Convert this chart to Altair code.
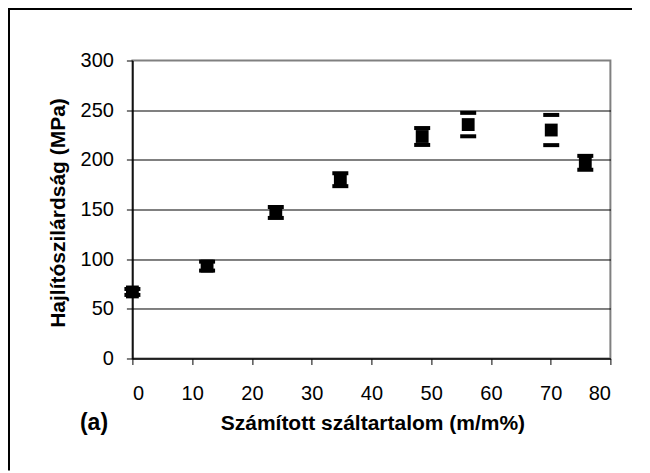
import altair as alt
import pandas as pd

# Data
fiber = [0, 12.5, 24, 34.8, 48.5, 56.2, 70.1, 75.8]
strength = [67, 93, 147, 180, 223.5, 235.5, 230, 197]
err = [3, 4.5, 5.5, 6.5, 8.5, 11.8, 15.2, 7]

x_ticks = [0, 10, 20, 30, 40, 50, 60, 70, 80]
y_ticks = [0, 50, 100, 150, 200, 250, 300]

df = pd.DataFrame({"x": fiber, "y": strength, "e": err})
df["lo"] = df["y"] - df["e"]
df["hi"] = df["y"] + df["e"]

FONT = "Liberation Sans"
W, H = 478, 298
PL, PT = 124.4, 52.5

xscale = alt.Scale(domain=[0, 80], nice=False, zero=False)
yscale = alt.Scale(domain=[0, 300], nice=False)

xaxis = alt.Axis(
    values=x_ticks, grid=False, domainColor="black", domainWidth=1.5,
    tickColor="black", tickSize=6, tickWidth=1, labelFont=FONT, labelFontSize=20,
    labelColor="black", labelPadding=19, title="Számított száltartalom (m/m%)",
    titleFont=FONT, titleFontSize=21, titleFontWeight="bold", titleColor="black",
    titleX=W / 2 + 1, titleY=65, titleBaseline="middle",
)
yaxis = alt.Axis(
    values=y_ticks, grid=True,
    gridColor="black", gridWidth=1,
    gridOpacity={"condition": {"test": "datum.value == 300 || datum.value == 0", "value": 0}, "value": 1},
    domainColor="black", domainWidth=1.5, tickColor="black", tickSize=6, tickWidth=1,
    labelFont=FONT, labelFontSize=20, labelColor="black", labelPadding=13,
    title="Hajlítószilárdság (MPa)", titleFont=FONT, titleFontSize=21,
    titleFontWeight="bold", titleColor="black", titleAngle=270,
    titleX=-74, titleY=H / 2 + 3, titleBaseline="middle", titleAlign="center",
)

base = alt.Chart(df)

points = base.mark_square(size=165, color="black", opacity=1, filled=True).encode(
    x=alt.X("x:Q", scale=xscale, axis=xaxis),
    y=alt.Y("y:Q", scale=yscale, axis=yaxis),
)
cap_lo = base.mark_tick(orient="horizontal", color="black", thickness=4, size=16, opacity=1).encode(
    x=alt.X("x:Q", scale=xscale), y=alt.Y("lo:Q", scale=yscale)
)
cap_hi = base.mark_tick(orient="horizontal", color="black", thickness=4, size=16, opacity=1).encode(
    x=alt.X("x:Q", scale=xscale), y=alt.Y("hi:Q", scale=yscale)
)

one = pd.DataFrame({"a": [0]})
frame_top = alt.Chart(one).mark_rule(color="black", strokeWidth=2).encode(
    x=alt.value(-PL), x2=alt.value(W + 22), y=alt.value(-PT + 1)
)
frame_left = alt.Chart(one).mark_rule(color="black", strokeWidth=2).encode(
    x=alt.value(-PL + 1), y=alt.value(-PT), y2=alt.value(H + 112)
)

label_a = alt.Chart(pd.DataFrame({"t": ["(a)"]})).mark_text(
    font=FONT, fontSize=23, fontWeight="bold", color="black", baseline="middle", align="center"
).encode(text="t:N", x=alt.value(94 - 132.4), y=alt.value(H + 65))

chart = alt.layer(frame_top, frame_left, cap_lo, cap_hi, points, label_a).properties(
    width=W, height=H,
    padding={"left": PL, "top": PT, "right": 22, "bottom": 112},
    autosize=alt.AutoSizeParams(type="none"),
).configure_view(stroke="#808080", strokeWidth=2)

chart.save("out.html", embed_options={"renderer": "svg", "actions": False})
